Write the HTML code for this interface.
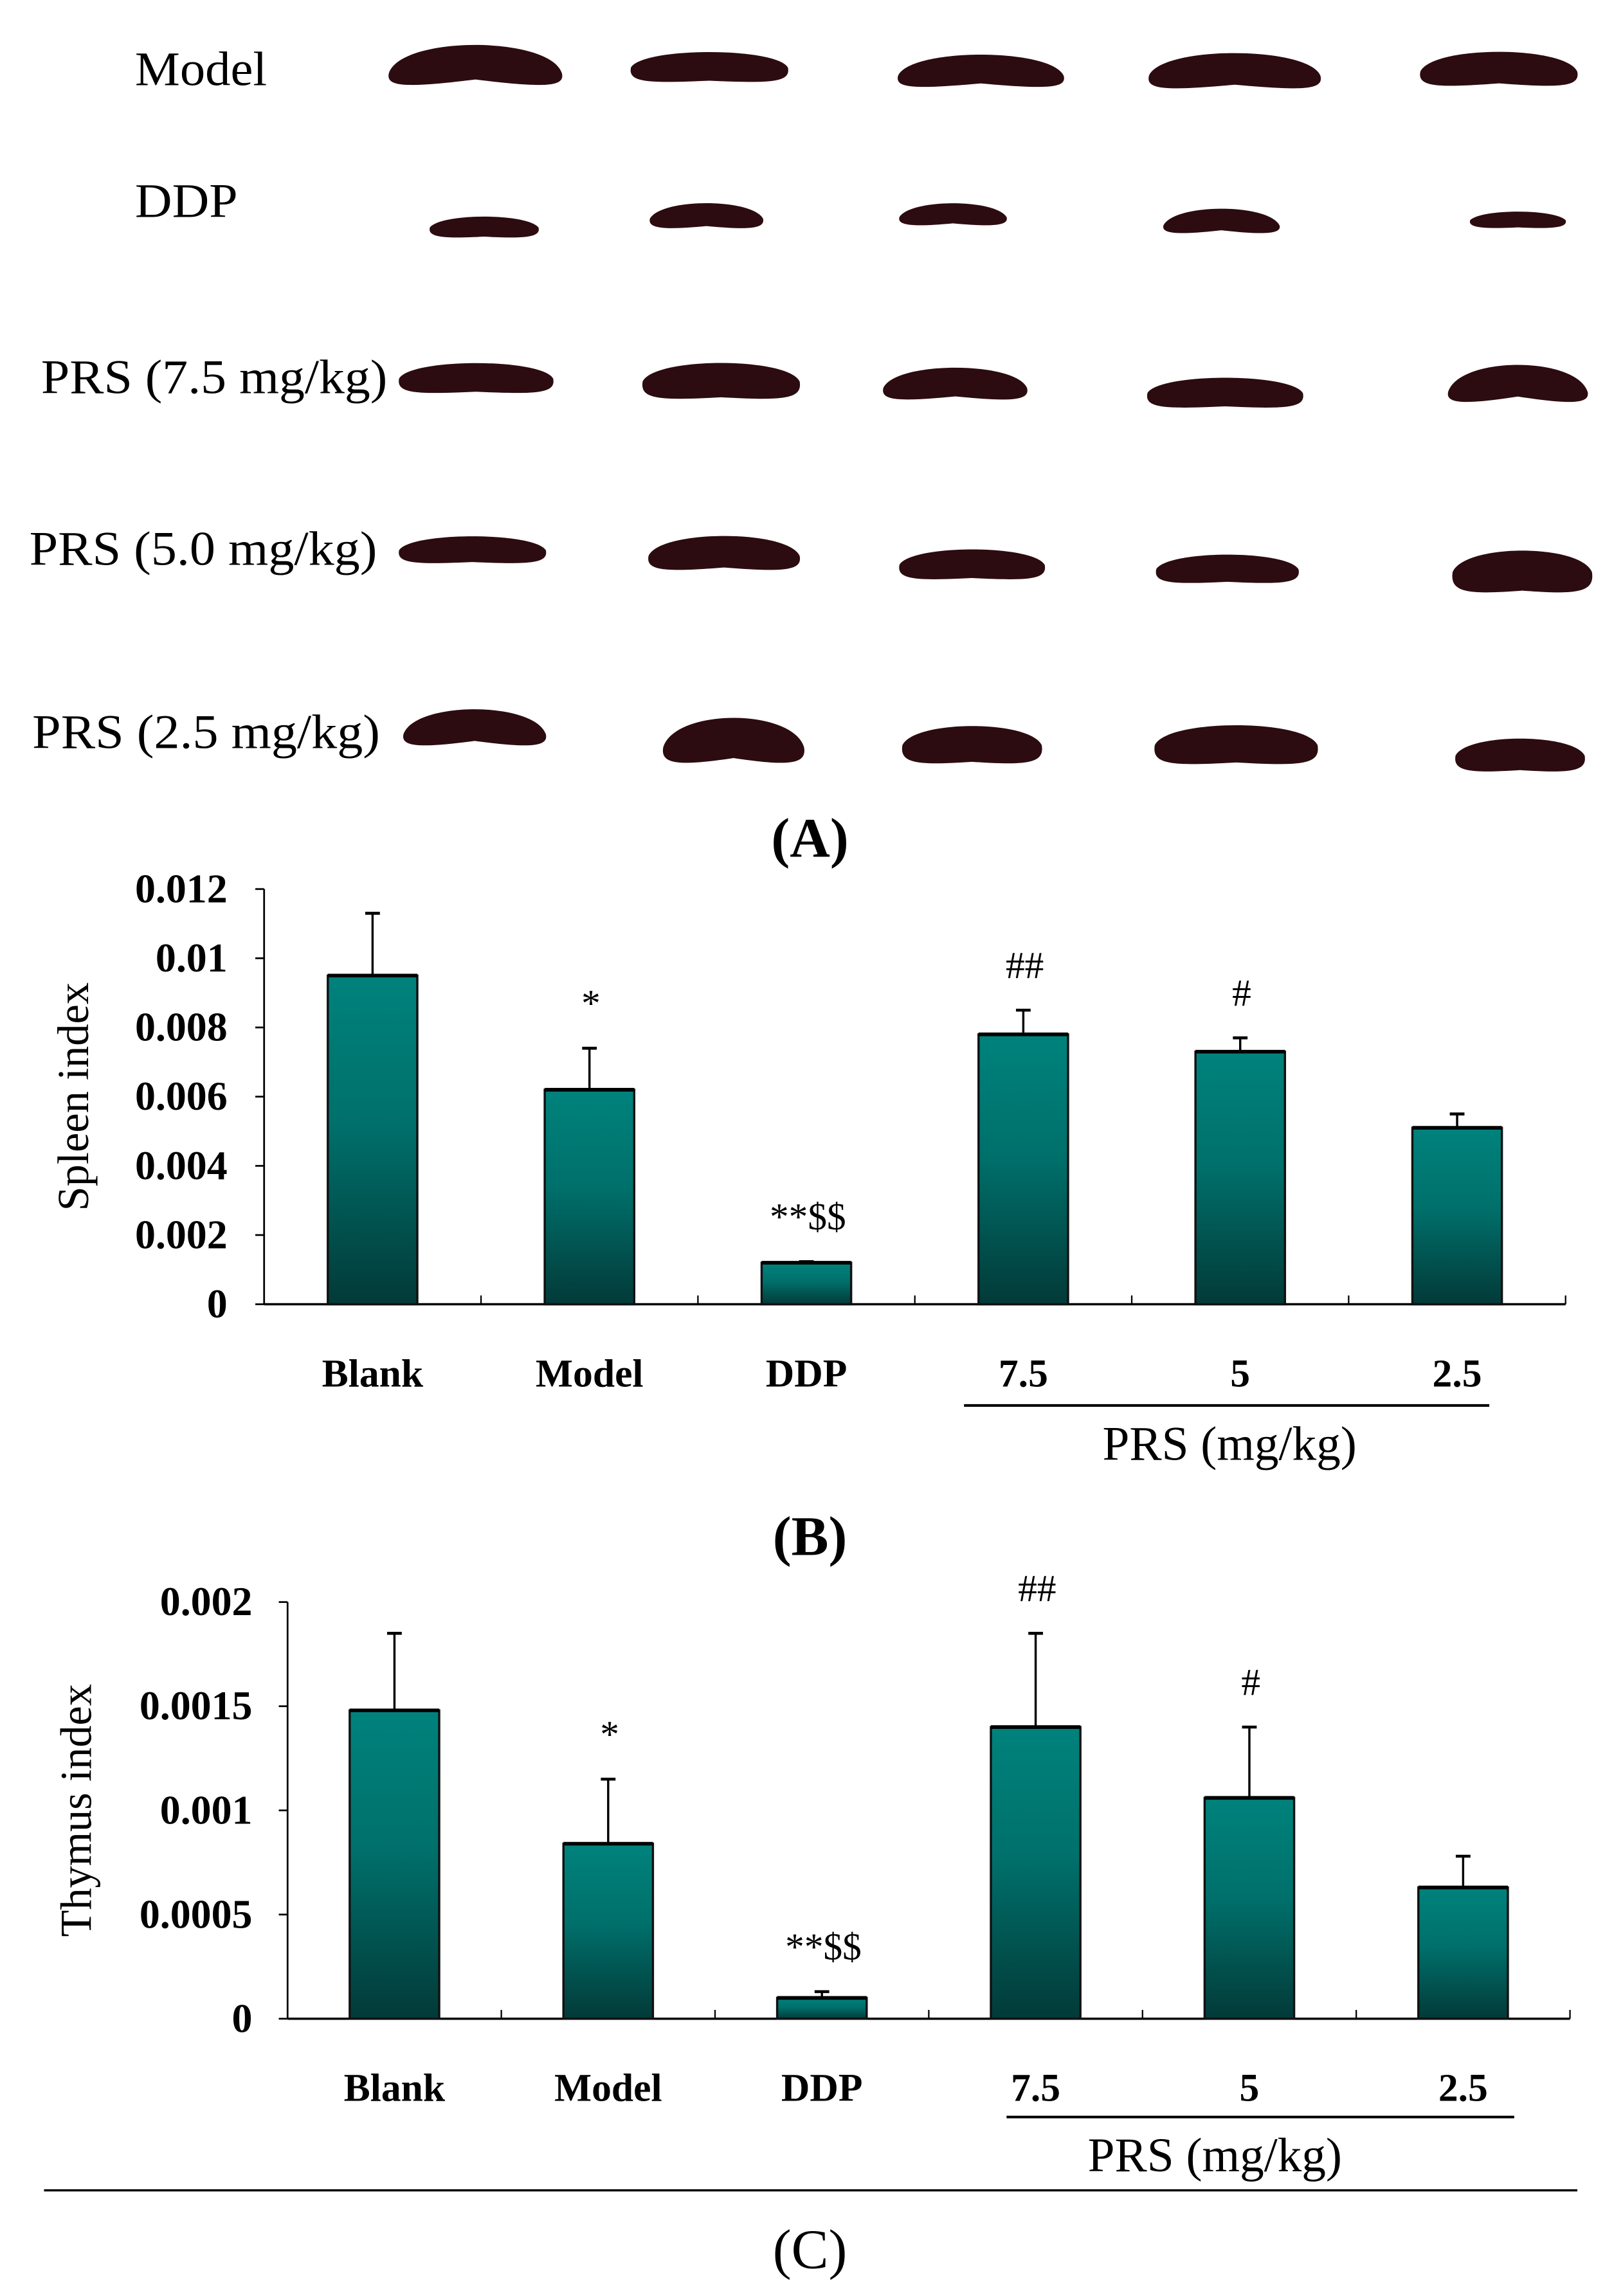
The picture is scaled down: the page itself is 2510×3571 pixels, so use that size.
<!DOCTYPE html>
<html><head><meta charset="utf-8"><style>
html,body{margin:0;padding:0;background:#fff;}
svg{display:block;}
text{font-family:"Liberation Serif",serif;}
</style></head><body>
<svg id="fig" width="2510" height="3571" viewBox="0 0 1100 1565" preserveAspectRatio="none" xmlns="http://www.w3.org/2000/svg">
<defs>
<linearGradient id="bg" x1="0" y1="0" x2="0" y2="1">
<stop offset="0" stop-color="#00827c"/><stop offset="0.45" stop-color="#00706b"/><stop offset="1" stop-color="#023a38"/>
</linearGradient>
</defs>
<g id="panelA">
<text x="92" y="58" font-size="33" textLength="90" lengthAdjust="spacingAndGlyphs">Model</text>
<text x="92" y="148" font-size="33" textLength="70" lengthAdjust="spacingAndGlyphs">DDP</text>
<text x="28" y="268" font-size="33" textLength="236" lengthAdjust="spacingAndGlyphs">PRS (7.5 mg/kg)</text>
<text x="20" y="385" font-size="33" textLength="237" lengthAdjust="spacingAndGlyphs">PRS (5.0 mg/kg)</text>
<text x="22" y="510" font-size="33" textLength="237" lengthAdjust="spacingAndGlyphs">PRS (2.5 mg/kg)</text>
<text x="552" y="584" font-size="38" font-weight="bold" text-anchor="middle">(A)</text>
</g>
<g id="chartB"></g>
<g id="chartC"></g>
<line x1="30" y1="1493" x2="1075" y2="1493" stroke="#000" stroke-width="1.5"/>
<text x="552" y="1546" font-size="38" text-anchor="middle">(C)</text>
</svg>
<script>
const categories = ["Blank","Model","DDP","7.5","5","2.5"];
const spleenValues = [0.0095,0.0062,0.0012,0.0078,0.0073,0.0051];
const spleenErrors = [0.0018,0.0012,0.00003,0.0007,0.0004,0.0004];
const spleenMarks = ["","*","**$$","##","#",""];
const spleenTicks = ["0","0.002","0.004","0.006","0.008","0.01","0.012"];
const thymusValues = [0.00148,0.00084,0.0001,0.0014,0.00106,0.00063];
const thymusErrors = [0.00037,0.00031,0.00003,0.00045,0.00034,0.00015];
const thymusMarks = ["","*","**$$","##","#",""];
const thymusTicks = ["0","0.0005","0.001","0.0015","0.002"];

// spleen photo grid (decorative shapes)
const spleenRows = [
 [[265,383,47,24,1],[430,537,46,20,0],[612,725,50,20,0.6],[783,900,50,22,0.6],[968,1075,48,22,0.3]],
 [[293,367,155,14,0],[443,520,148,16,0.3],[613,686,147,14,0.3],[793,872,152,15,0.5],[1002,1067,150,11,0]],
 [[272,377,258,20,0],[438,545,260,24,0],[602,700,263,20,0.5],[782,888,268,20,0],[987,1082,264,22,1]],
 [[272,372,375,18,0],[442,545,378,22,0.3],[613,712,385,20,0],[788,885,388,19,0],[990,1085,390,28,0]],
 [[275,372,498,22,0.8],[452,548,507,28,0.8],[615,710,508,25,0],[787,898,508,26,0],[992,1080,515,22,0]]
];
const NS="http://www.w3.org/2000/svg";
const svg=document.getElementById('fig');
const pA=document.getElementById('panelA');
function mk(tag,attrs,parent){const e=document.createElementNS(NS,tag);for(const k in attrs)e.setAttribute(k,attrs[k]);parent.appendChild(e);return e;}
spleenRows.forEach((row,ri)=>row.forEach((s,ci)=>{
 const [x1,x2,cy,h,c]=s;const cx=(x1+x2)/2;
 const e=c*6;
 const d=`M${x1},${cy+e*0.5} C${x1+8},${cy-h*0.7-e} ${x2-8},${cy-h*0.7-e} ${x2},${cy+e*0.5} C${x2+2},${cy+h*0.5} ${x2-10},${cy+h*0.55} ${cx},${cy+h*0.45-e*0.6} C${x1+10},${cy+h*0.55} ${x1-2},${cy+h*0.5} ${x1},${cy+e*0.5} Z`;
 const p=mk('path',{d:d,fill:'#2c0c10'},pA);
 
 
}));

function drawChart(g,cfg){
 const {x0,x1,yTop,yBot,max,vals,errs,marks,ticks,ylabel,ylabelX,labelY,lineX1,lineX2,lineY,prsX,prsY,tickX}=cfg;
 const n=categories.length,cw=(x1-x0)/n,bw=61;
 const ys=v=>yBot-(v/max)*(yBot-yTop);
 const xc=i=>x0+cw*(i+0.5);
 let e=mk('line',{x1:x0,y1:yTop,x2:x0,y2:yBot,stroke:'#000','stroke-width':1.2},g);
 
 e=mk('line',{x1:x0,y1:yBot,x2:x1,y2:yBot,stroke:'#000','stroke-width':1.5},g);
 
 ticks.forEach(t=>{const y=ys(parseFloat(t));
  const l=mk('line',{x1:x0-6,y1:y,x2:x0,y2:y,stroke:'#000','stroke-width':1.2},g);
  
  const tx=mk('text',{x:tickX,y:y+9,'font-size':28,'font-weight':'bold','text-anchor':'end'},g);tx.textContent=t;
  
 });
 for(let i=1;i<=n;i++){const x=x0+cw*i;
  const l=mk('line',{x1:x,y1:yBot-6,x2:x,y2:yBot,stroke:'#000','stroke-width':1},g);
  }
 vals.forEach((v,i)=>{const cx=xc(i),yt=ys(v),ye=ys(v+errs[i]);
  const el=mk('line',{x1:cx,y1:yt,x2:cx,y2:ye,stroke:'#000','stroke-width':1.5},g);
  
  const ec=mk('line',{x1:cx-5,y1:ye,x2:cx+5,y2:ye,stroke:'#000','stroke-width':2},g);
  
  const r=mk('rect',{x:cx-bw/2,y:yt,width:bw,height:yBot-yt,fill:'url(#bg)',stroke:'#111','stroke-width':1.5},g);
  
  const tl=mk('line',{x1:cx-bw/2,y1:yt,x2:cx+bw/2,y2:yt,stroke:'#000','stroke-width':2.5},g);
  
  if(marks[i]){const m=mk('text',{x:cx+1,y:ye-22,'font-size':26,'text-anchor':'middle'},g);m.textContent=marks[i];
   }
  const lb=mk('text',{x:cx,y:labelY,'font-size':27,'font-weight':'bold','text-anchor':'middle'},g);lb.textContent=categories[i];
  
 });
 const yl=mk('text',{x:0,y:0,'font-size':30,'text-anchor':'middle',transform:`translate(${ylabelX},${(yTop+yBot)/2}) rotate(-90)`},g);yl.textContent=ylabel;
 
 const gl=mk('line',{x1:lineX1,y1:lineY,x2:lineX2,y2:lineY,stroke:'#000','stroke-width':1.8},g);
 
 const pt=mk('text',{x:prsX,y:prsY,'font-size':33,'text-anchor':'middle'},g);pt.textContent='PRS (mg/kg)';
 
}
drawChart(document.getElementById('chartB'),{x0:180,x1:1067,yTop:606,yBot:889,max:0.012,vals:spleenValues,errs:spleenErrors,marks:spleenMarks,ticks:spleenTicks,ylabel:'Spleen index',ylabelX:60,labelY:945,lineX1:657,lineX2:1015,lineY:958,prsX:838,prsY:995,tickX:155});
drawChart(document.getElementById('chartC'),{x0:196,x1:1070,yTop:1092,yBot:1376,max:0.002,vals:thymusValues,errs:thymusErrors,marks:thymusMarks,ticks:thymusTicks,ylabel:'Thymus index',ylabelX:62,labelY:1432,lineX1:686,lineX2:1032,lineY:1443,prsX:828,prsY:1480,tickX:172});
const bl=document.createElementNS(NS,'text');
bl.setAttribute('x',552);bl.setAttribute('y',1060);bl.setAttribute('font-size',38);bl.setAttribute('font-weight','bold');bl.setAttribute('text-anchor','middle');
bl.textContent='(B)';


svg.appendChild(bl);
</script>
</body></html>
